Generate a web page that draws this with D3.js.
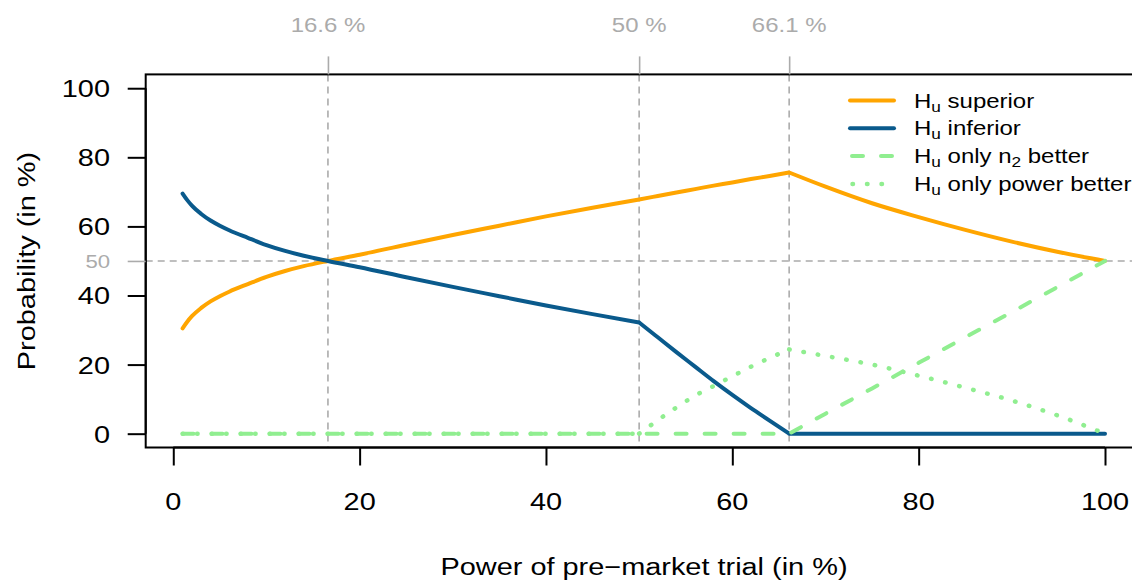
<!DOCTYPE html>
<html>
<head>
<meta charset="utf-8">
<script src="https://cdn.jsdelivr.net/npm/d3@7"></script>
<style>
  html, body { margin: 0; padding: 0; background: #fff; }
  svg { display: block; }
  text { font-family: "Liberation Sans", Arial, Helvetica, sans-serif; }
</style>
</head>
<body>
<svg id="chart" width="1132" height="583"></svg>
<script>
// ---------------- data ----------------
const powerX = [1, 1.5, 2, 3, 4, 5, 6, 8, 10, 12, 14, 16.6, 20, 25, 30, 35, 40, 45, 50,
                52, 54, 56, 58, 60, 62, 64, 66.1, 70, 75, 80, 85, 90, 95, 100];
const superior = [30.5, 32.4, 34.0, 36.4, 38.3, 39.8, 41.1, 43.3, 45.4, 47.1, 48.5, 50.0, 51.8, 54.7, 57.5, 60.2, 62.9, 65.4, 67.8,
                  68.8, 69.8, 70.8, 71.8, 72.7, 73.7, 74.6, 75.6, 71.5, 66.7, 62.7, 59.0, 55.6, 52.6, 50.0];
const inferior = [69.5, 67.6, 66.0, 63.6, 61.7, 60.2, 58.9, 56.7, 54.6, 52.9, 51.5, 50.0, 48.2, 45.3, 42.5, 39.8, 37.1, 34.6, 32.2,
                  27.9, 23.6, 19.4, 15.2, 11.2, 7.4, 3.8, 0, 0, 0, 0, 0, 0, 0, 0];
const onlyN2 = [0, 0, 0, 0, 0, 0, 0, 0, 0, 0, 0, 0, 0, 0, 0, 0, 0, 0, 0,
                0, 0, 0, 0, 0, 0, 0, 0, 5.8, 13.1, 20.5, 27.9, 35.2, 42.6, 50.0];
const onlyPower = [0, 0, 0, 0, 0, 0, 0, 0, 0, 0, 0, 0, 0, 0, 0, 0, 0, 0, 0,
                   3.9, 7.6, 11.0, 13.8, 16.6, 19.4, 21.9, 24.4, 22.5, 20.0, 16.8, 13.3, 9.6, 5.2, 0];
const xTicks = [0, 20, 40, 60, 80, 100];
const yTicks = [0, 20, 40, 60, 80, 100];
const refX = [16.6, 50, 66.1];
const refXLabels = ["16.6 %", "50 %", "66.1 %"];
const refY = 50;
const seriesNames = ["superior", "inferior", "only n2 better", "only power better"];

// ---------------- layout ----------------
const svg = d3.select("#chart");
const x = d3.scaleLinear().domain([-2.96, 103.96]).range([145.7, 1141.9]);
const y = d3.scaleLinear().domain([-4, 104]).range([447.5, 74.4]);
const SX = 1.23; // horizontal glyph stretch of the reference
const grey = "#ababab";
const orange = "#FFA500", blue = "#0a5a8c", green = "#90EE90";

function label(g, txt, px, py, size, anchor, color, rot) {
  const t = g.append("text")
    .attr("transform", `translate(${px},${py})` + (rot ? ` rotate(${rot})` : "") + ` scale(${SX},1)`)
    .attr("font-size", size)
    .attr("text-anchor", anchor)
    .attr("fill", color || "#000")
    .text(txt);
  return t;
}

// reference lines (under data)
const ref = svg.append("g");
ref.selectAll("line.v").data(refX).enter().append("line")
  .attr("x1", d => x(d)).attr("x2", d => x(d))
  .attr("y1", y(104)).attr("y2", y(-4))
  .attr("stroke", grey).attr("stroke-width", 1.6).attr("stroke-dasharray", "7,5");
ref.append("line")
  .attr("x1", x(-2.96)).attr("x2", x(103.96))
  .attr("y1", y(refY)).attr("y2", y(refY))
  .attr("stroke", grey).attr("stroke-width", 1.6).attr("stroke-dasharray", "7,5");

// data lines
const pts = arr => powerX.map((v, i) => [v, arr[i]]);
const line = d3.line().x(d => x(d[0])).y(d => y(d[1])).curve(d3.curveMonotoneX);
const lin = d3.line().x(d => x(d[0])).y(d => y(d[1]));
const lines = svg.append("g").attr("fill", "none").attr("stroke-linejoin", "round").attr("stroke-linecap", "round");
// superior: curve, but keep kinks at 66.1
function kinked(arr, kinks) {
  const p = pts(arr);
  const segs = [];
  let start = 0;
  kinks.forEach(k => {
    const idx = powerX.indexOf(k);
    segs.push(p.slice(start, idx + 1));
    start = idx;
  });
  segs.push(p.slice(start));
  return segs.map(s => line(s)).join("");
}
lines.append("path").attr("d", kinked(superior, [66.1])).attr("stroke", orange).attr("stroke-width", 4);
lines.append("path").attr("d", kinked(inferior, [50, 66.1])).attr("stroke", blue).attr("stroke-width", 4);
lines.append("path").attr("d", lin(pts(onlyN2))).attr("stroke", green).attr("stroke-width", 4)
  .attr("stroke-dasharray", "11,18");
lines.append("path").attr("d", kinked(onlyPower, [50, 66.1])).attr("stroke", green).attr("stroke-width", 4.5)
  .attr("stroke-dasharray", "0.5,14");

// box
svg.append("rect")
  .attr("x", x(-2.96)).attr("y", y(104))
  .attr("width", x(103.96) - x(-2.96)).attr("height", y(-4) - y(104))
  .attr("fill", "none").attr("stroke", "#000").attr("stroke-width", 2);

// axes
const axB = svg.append("g").attr("transform", `translate(0,${y(-4)})`)
  .call(d3.axisBottom(x).tickValues(xTicks).tickSize(18).tickFormat(""));
axB.select(".domain").attr("d", `M${x(0)},0H${x(100)}`).attr("stroke-width", 2);
axB.selectAll(".tick line").attr("stroke-width", 2);
xTicks.forEach(t => label(svg, String(t), x(t), 510, 23.5, "middle"));

const axL = svg.append("g").attr("transform", `translate(${x(-2.96)},0)`)
  .call(d3.axisLeft(y).tickValues(yTicks).tickSize(18).tickFormat(""));
axL.select(".domain").attr("d", `M0,${y(0)}V${y(100)}`).attr("stroke-width", 2);
axL.selectAll(".tick line").attr("stroke-width", 2);
yTicks.forEach(t => label(svg, String(t), 110, y(t) + 9, 23.5, "end"));

// grey 50 on left axis
const axL2 = svg.append("g").attr("transform", `translate(${x(-2.96)},0)`)
  .call(d3.axisLeft(y).tickValues([refY]).tickSize(18).tickFormat(""));
axL2.select(".domain").remove();
axL2.selectAll(".tick line").attr("stroke", grey).attr("stroke-width", 1.6);
label(svg, String(refY), 110, y(refY) + 7, 18, "end", grey);

// grey top axis
const axT = svg.append("g").attr("transform", `translate(0,${y(104)})`)
  .call(d3.axisTop(x).tickValues(refX).tickSize(18).tickFormat(""));
axT.select(".domain").remove();
axT.selectAll(".tick line").attr("stroke", grey).attr("stroke-width", 1.6);
refX.forEach((v, i) => label(svg, refXLabels[i], x(v), 32, 19.5, "middle", grey));

// titles
label(svg, "Power of pre\u2212market trial (in %)", 644, 575, 23.5, "middle");
label(svg, "Probability (in %)", 35, 261, 23.5, "middle", "#000", -90);

// legend
const leg = svg.append("g");
const legStyles = [
  {c: orange, dash: null, w: 4},
  {c: blue, dash: null, w: 4},
  {c: green, dash: "11,18", w: 4, off: -2},
  {c: green, dash: "0.5,14", w: 4.5, off: -2.5}
];
seriesNames.forEach((name, i) => {
  const cy = 100.5 + i * 27.8;
  const s = legStyles[i];
  const l = leg.append("line").attr("x1", 850).attr("x2", 894).attr("y1", cy).attr("y2", cy)
    .attr("stroke", s.c).attr("stroke-width", s.w).attr("stroke-linecap", "round");
  if (s.dash) l.attr("stroke-dasharray", s.dash).attr("stroke-dashoffset", s.off);
  const t = label(leg, "", 914, cy + 7, 19.5, "start");
  t.append("tspan").text("H");
  t.append("tspan").attr("font-size", 14).attr("dy", 4).text("u");
  if (name === "only n2 better") {
    t.append("tspan").attr("dy", -4).text(" only n");
    t.append("tspan").attr("font-size", 14).attr("dy", 4).text("2");
    t.append("tspan").attr("dy", -4).text(" better");
  } else {
    t.append("tspan").attr("dy", -4).text(" " + name);
  }
});
</script>
</body>
</html>
